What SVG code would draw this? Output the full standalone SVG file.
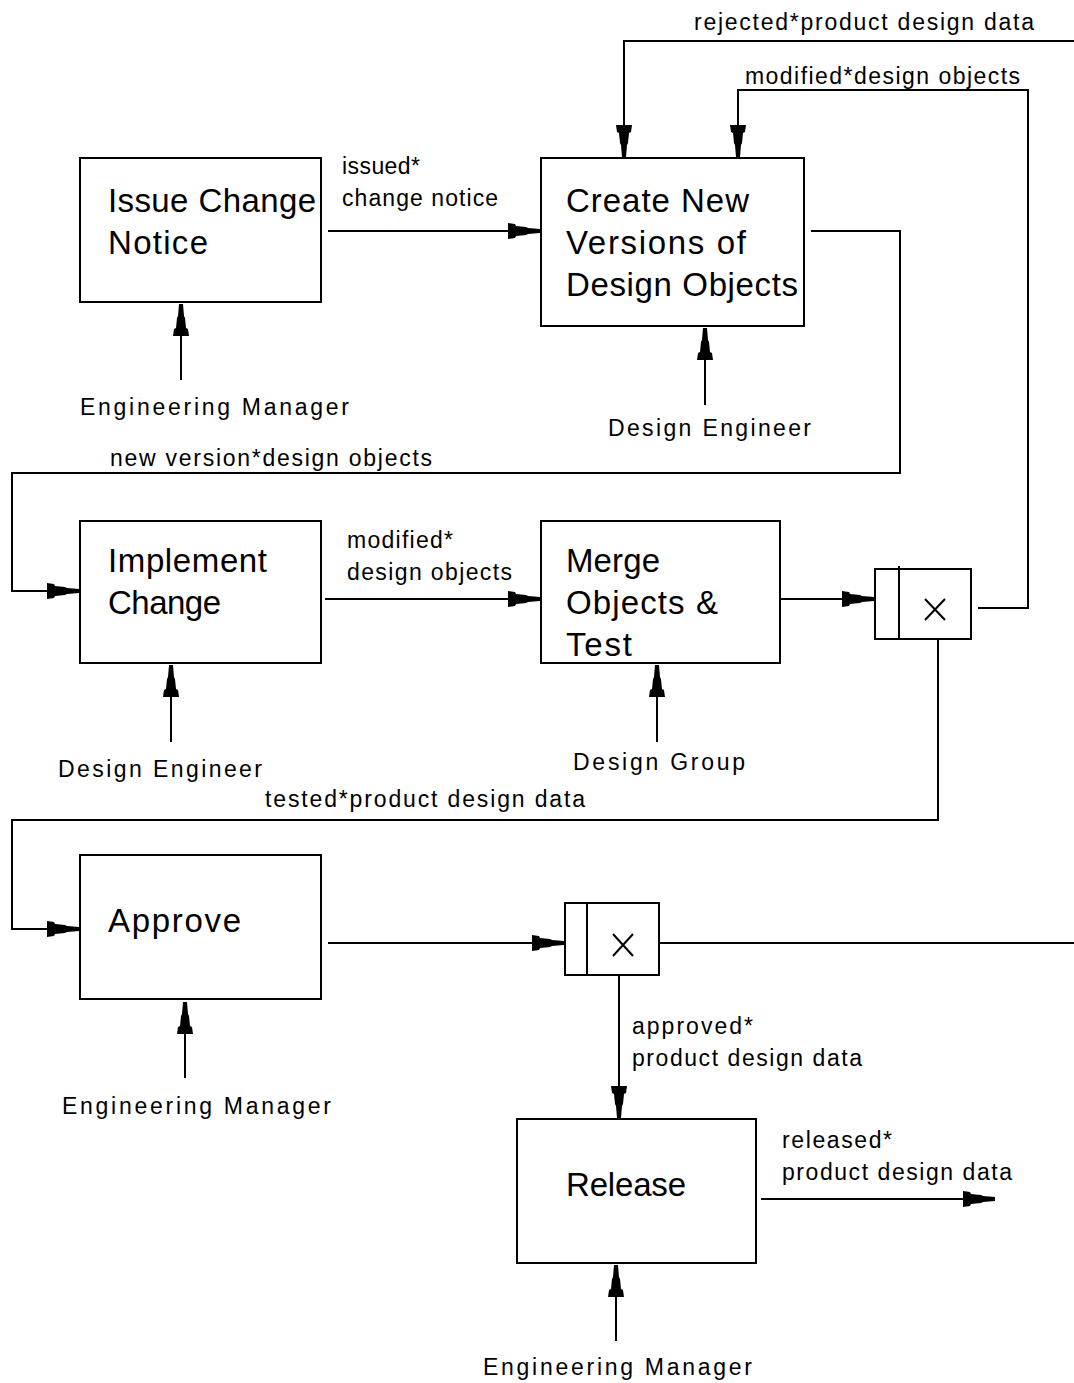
<svg xmlns="http://www.w3.org/2000/svg" width="1074" height="1383" viewBox="0 0 1074 1383">
<style>
.box{fill:#fff;stroke:#000;stroke-width:2}
.ln{fill:none;stroke:#000;stroke-width:2}
.t{font-family:"Liberation Sans",Arial,sans-serif;font-size:33px;fill:#000}
.s{font-family:"Liberation Sans",Arial,sans-serif;font-size:23px;fill:#000}
</style>
<defs>
<marker id="ah" markerUnits="userSpaceOnUse" viewBox="0 -9 34 18" markerWidth="34" markerHeight="18" refX="34" refY="0" orient="auto">
<path d="M2,-8 L9,-7 L10,-5 L20,-4 L22,-3 L34,-2 L34,2 L22,3 L20,4 L10,5 L9,7 L2,8 Z" fill="#000"/>
</marker>
</defs>
<g id="connectors">
<path class="ln" d="M328,231 H540" marker-end="url(#ah)"/>
<path class="ln" d="M1074,41 H624 V157" marker-end="url(#ah)"/>
<path class="ln" d="M978,608 H1028 V90 H738 V157" marker-end="url(#ah)"/>
<path class="ln" d="M811,231 H900 V473 H12 V591 H79" marker-end="url(#ah)"/>
<path class="ln" d="M325,599 H540" marker-end="url(#ah)"/>
<path class="ln" d="M780,599 H874" marker-end="url(#ah)"/>
<path class="ln" d="M938,639 V820 H12 V929 H79" marker-end="url(#ah)"/>
<path class="ln" d="M328,943 H564" marker-end="url(#ah)"/>
<path class="ln" d="M659,943 H1074"/>
<path class="ln" d="M619,975 V1118" marker-end="url(#ah)"/>
<path class="ln" d="M761,1199 H995" marker-end="url(#ah)"/>
<path class="ln" d="M181,380 V304" marker-end="url(#ah)"/>
<path class="ln" d="M705,405 V328" marker-end="url(#ah)"/>
<path class="ln" d="M171,742 V665" marker-end="url(#ah)"/>
<path class="ln" d="M657,742 V665" marker-end="url(#ah)"/>
<path class="ln" d="M185,1078 V1002" marker-end="url(#ah)"/>
<path class="ln" d="M616,1341 V1265" marker-end="url(#ah)"/>
</g>
<g id="labels">
<text class="s" x="694" y="30" textLength="340" lengthAdjust="spacing">rejected*product design data</text>
<text class="s" x="745" y="84" textLength="275" lengthAdjust="spacing">modified*design objects</text>
<text class="s" x="342" y="174" textLength="78" lengthAdjust="spacing">issued*</text>
<text class="s" x="342" y="206" textLength="156" lengthAdjust="spacing">change notice</text>
<text class="s" x="80" y="415" textLength="269" lengthAdjust="spacing">Engineering Manager</text>
<text class="s" x="608" y="436" textLength="203" lengthAdjust="spacing">Design Engineer</text>
<text class="s" x="110" y="466" textLength="322" lengthAdjust="spacing">new version*design objects</text>
<text class="s" x="347" y="548" textLength="106" lengthAdjust="spacing">modified*</text>
<text class="s" x="347" y="580" textLength="165" lengthAdjust="spacing">design objects</text>
<text class="s" x="58" y="777" textLength="204" lengthAdjust="spacing">Design Engineer</text>
<text class="s" x="573" y="770" textLength="172" lengthAdjust="spacing">Design Group</text>
<text class="s" x="265" y="807" textLength="320" lengthAdjust="spacing">tested*product design data</text>
<text class="s" x="62" y="1114" textLength="269" lengthAdjust="spacing">Engineering Manager</text>
<text class="s" x="632" y="1034" textLength="121" lengthAdjust="spacing">approved*</text>
<text class="s" x="632" y="1066" textLength="230" lengthAdjust="spacing">product design data</text>
<text class="s" x="782" y="1148" textLength="110" lengthAdjust="spacing">released*</text>
<text class="s" x="782" y="1180" textLength="230" lengthAdjust="spacing">product design data</text>
<text class="s" x="483" y="1375" textLength="269" lengthAdjust="spacing">Engineering Manager</text>
</g>
<g id="issue">
<rect class="box" x="80" y="158" width="241" height="144"/>
<text class="t" x="108" y="212" textLength="208" lengthAdjust="spacing">Issue Change</text>
<text class="t" x="108" y="254" textLength="100" lengthAdjust="spacing">Notice</text>
</g>
<g id="create">
<rect class="box" x="541" y="158" width="263" height="168"/>
<text class="t" x="566" y="212" textLength="183" lengthAdjust="spacing">Create New</text>
<text class="t" x="566" y="254" textLength="180" lengthAdjust="spacing">Versions of</text>
<text class="t" x="566" y="296" textLength="232" lengthAdjust="spacing">Design Objects</text>
</g>
<g id="implement">
<rect class="box" x="80" y="521" width="241" height="142"/>
<text class="t" x="108" y="572" textLength="159" lengthAdjust="spacing">Implement</text>
<text class="t" x="108" y="614" textLength="113" lengthAdjust="spacing">Change</text>
</g>
<g id="merge">
<rect class="box" x="541" y="521" width="239" height="142"/>
<text class="t" x="566" y="572" textLength="94" lengthAdjust="spacing">Merge</text>
<text class="t" x="566" y="614" textLength="152" lengthAdjust="spacing">Objects &amp;</text>
<text class="t" x="566" y="656" textLength="66" lengthAdjust="spacing">Test</text>
</g>
<g id="junction1">
<rect class="box" x="875" y="569" width="96" height="70"/>
<line class="ln" x1="899" y1="566" x2="899" y2="639"/>
<path class="ln" d="M925,599 L945,620 M945,599 L925,620" stroke-width="1.5"/>
</g>
<g id="approve">
<rect class="box" x="80" y="855" width="241" height="144"/>
<text class="t" x="108" y="932" textLength="133" lengthAdjust="spacing">Approve</text>
</g>
<g id="junction2">
<rect class="box" x="565" y="903" width="94" height="72"/>
<line class="ln" x1="587" y1="903" x2="587" y2="975"/>
<path class="ln" d="M613,934 L633,956 M633,934 L613,956" stroke-width="1.5"/>
</g>
<g id="release">
<rect class="box" x="517" y="1119" width="239" height="144"/>
<text class="t" x="566" y="1196" textLength="120" lengthAdjust="spacing">Release</text>
</g>
</svg>
